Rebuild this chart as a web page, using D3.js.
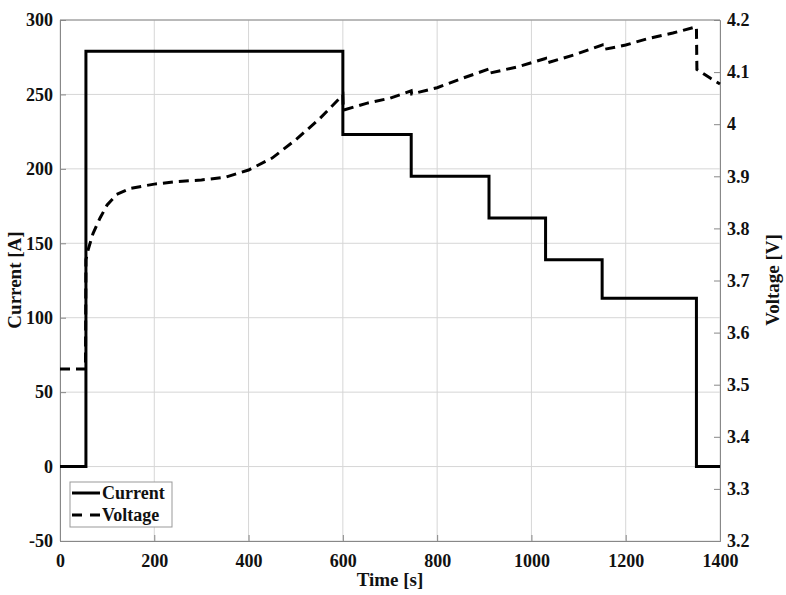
<!DOCTYPE html>
<html><head><meta charset="utf-8">
<script src="https://cdn.jsdelivr.net/npm/d3@7"></script>
<style>body{margin:0;background:#fff}svg{display:block}svg text{font-family:"Liberation Serif","Times New Roman",serif !important;font-weight:bold;fill:#111}</style>
</head><body>
<script>
const xTicks = [0,200,400,600,800,1000,1200,1400];
const currentTicks = [-50,0,50,100,150,200,250,300];
const currentTickLabels = ["-50","0","50","100","150","200","250","300"];
const voltageTicks = [3.2,3.3,3.4,3.5,3.6,3.7,3.8,3.9,4.0,4.1,4.2];
const voltageTickLabels = ["3.2","3.3","3.4","3.5","3.6","3.7","3.8","3.9","4","4.1","4.2"];

const currentTime = [0,55,55,600,600,745,745,910,910,1030,1030,1150,1150,1350,1350,1400];
const currentVal  = [0,0,279,279,223,223,195,195,167,167,139,139,113,113,0,0];

const voltageTime = [0,54,55,60,70,85,100,120,150,200,250,300,350,400,450,500,550,600,601,650,700,745,746,800,850,910,911,970,1030,1031,1090,1150,1151,1200,1250,1300,1350,1351,1360,1380,1400];
const voltageVal  = [3.53,3.53,3.74,3.76,3.79,3.82,3.845,3.865,3.877,3.885,3.89,3.893,3.898,3.912,3.935,3.97,4.01,4.056,4.027,4.04,4.05,4.064,4.058,4.07,4.087,4.106,4.098,4.11,4.126,4.117,4.133,4.152,4.143,4.152,4.165,4.175,4.187,4.105,4.1,4.088,4.077];

const W=786,H=595, L=60,R=720,T=20,B=541;
const svg=d3.select("body").append("svg").attr("width",W).attr("height",H);
const x=d3.scaleLinear().domain([0,1400]).range([L,R]);
const yL=d3.scaleLinear().domain([-50,300]).range([B,T]);
const yR=d3.scaleLinear().domain([3.2,4.2]).range([B,T]);

// grid
const g=svg.append("g");
g.selectAll(".gx").data(xTicks).join("line").attr("x1",d=>x(d)).attr("x2",d=>x(d)).attr("y1",T).attr("y2",B).attr("stroke","#d6d6d6").attr("stroke-width",1);
g.selectAll(".gy").data(currentTicks).join("line").attr("x1",L).attr("x2",R).attr("y1",d=>yL(d)).attr("y2",d=>yL(d)).attr("stroke","#d6d6d6").attr("stroke-width",1);

// axes
const fs=18;
const ax=svg.append("g").attr("transform",`translate(0,${B})`).call(d3.axisBottom(x).tickValues(xTicks).tickSize(-6).tickPadding(9).tickFormat(d3.format("d")));
const al=svg.append("g").attr("transform",`translate(${L},0)`).call(d3.axisLeft(yL).tickValues(currentTicks).tickSize(-6).tickPadding(7).tickFormat((d,i)=>currentTickLabels[i]));
const ar=svg.append("g").attr("transform",`translate(${R},0)`).call(d3.axisRight(yR).tickValues(voltageTicks).tickSize(-6).tickPadding(7).tickFormat((d,i)=>voltageTickLabels[i]));
svg.append("line").attr("x1",L).attr("x2",R).attr("y1",T).attr("y2",T).attr("stroke","#888");
[ax,al,ar].forEach(a=>{a.attr("font-family",null).attr("font-size",null);a.select(".domain").attr("stroke","#888");a.selectAll(".tick line").attr("stroke","#888");a.selectAll("text").style("font-size",fs+"px").attr("fill","#111");});
ax.selectAll("text").attr("dy","0.95em");

// lines
const lineC=d3.line().x((d,i)=>x(currentTime[i])).y(d=>yL(d));
svg.append("path").attr("d",lineC(currentVal)).attr("fill","none").attr("stroke","#000").attr("stroke-width",3);
const lineV=d3.line().x((d,i)=>x(voltageTime[i])).y(d=>yR(d));
svg.append("path").attr("d",lineV(voltageVal)).attr("fill","none").attr("stroke","#000").attr("stroke-width",3).attr("stroke-dasharray","10,6");

// labels
svg.append("text").attr("x",390).attr("y",586).attr("text-anchor","middle").style("font-size","19px").text("Time [s]");
svg.append("text").attr("transform","translate(21,280) rotate(-90)").attr("text-anchor","middle").style("font-size","19px").text("Current [A]");
svg.append("text").attr("transform","translate(779,280) rotate(-90)").attr("text-anchor","middle").style("font-size","19px").text("Voltage [V]");

// legend
const lg=svg.append("g");
lg.append("rect").attr("x",70).attr("y",482).attr("width",102).attr("height",45).attr("fill","#fff").attr("stroke","#999");
lg.append("line").attr("x1",72).attr("x2",100).attr("y1",493).attr("y2",493).attr("stroke","#000").attr("stroke-width",3);
lg.append("line").attr("x1",72).attr("x2",100).attr("y1",515).attr("y2",515).attr("stroke","#000").attr("stroke-width",3).attr("stroke-dasharray","10,8");
lg.append("text").attr("x",102).attr("y",499).style("font-size","18px").text("Current");
lg.append("text").attr("x",102).attr("y",521).style("font-size","18px").text("Voltage");
</script>
</body></html>
